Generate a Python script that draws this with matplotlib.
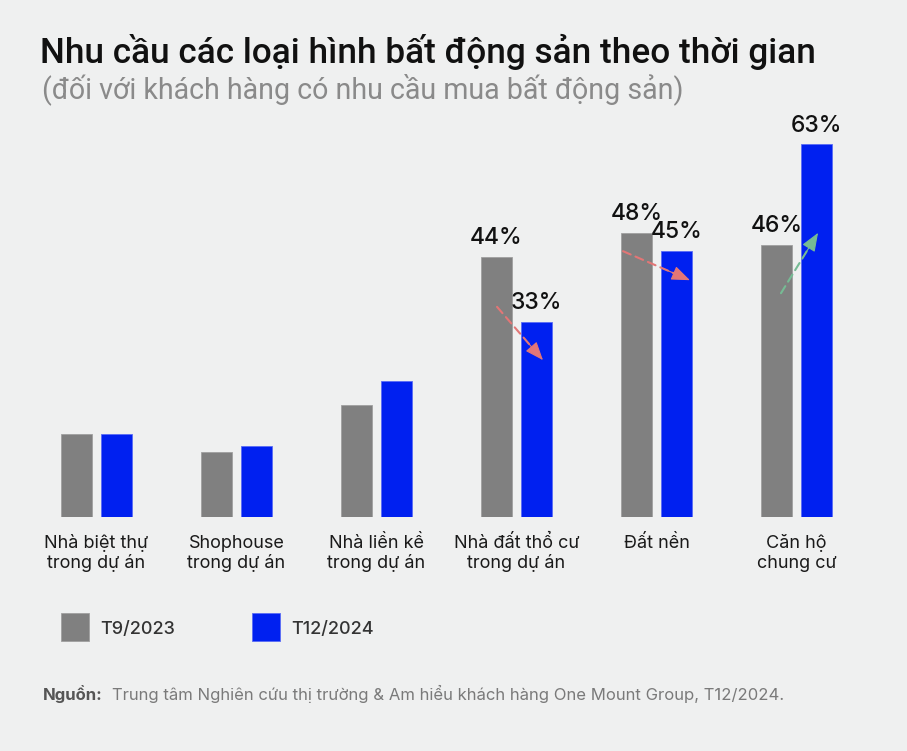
import matplotlib
matplotlib.use("Agg")
import matplotlib.pyplot as plt
import numpy as np

# data
categories = ["Nhà biệt thự\ntrong dự án", "Shophouse\ntrong dự án", "Nhà liền kề\ntrong dự án",
              "Nhà đất thổ cư\ntrong dự án", "Đất nền", "Căn hộ\nchung cư"]
t9_2023 = [14, 11, 19, 44, 48, 46]
t12_2024 = [14, 12, 23, 33, 45, 63]
labelled = [3, 4, 5]
series_names = ["T9/2023", "T12/2024"]

bg = "#eff0f0"
c_old = "#808080"
c_new = "#0020f0"
lab_font = ['Inter', 'DejaVu Sans']
plt.rcParams['font.family'] = ['Roboto', 'DejaVu Sans']

W, H = 907, 751
fig = plt.figure(figsize=(W / 100, H / 100), dpi=100, facecolor=bg)

def fx(px):
    return px / W

def fy(py):
    return 1 - py / H

# axes: baseline at y=517px, 5.92 px per percent, groups 140 px apart
ax = fig.add_axes([fx(26.5), fy(517), 840 / W, 70 * 5.92 / H])
ax.set_facecolor(bg)
ax.set_xlim(-0.5, 5.5)
ax.set_ylim(0, 70)
ax.axis('off')

x = np.arange(len(categories))
bw = 31 / 140
off = 20 / 140
b1 = ax.bar(x - off, t9_2023, bw, color=c_old, edgecolor="#a0a0a0", linewidth=0.6)
b2 = ax.bar(x + off, t12_2024, bw, color=c_new, edgecolor="#5a6cf5", linewidth=0.6)

for i in labelled:
    for xx, v in [(x[i] - off, t9_2023[i]), (x[i] + off, t12_2024[i])]:
        ax.annotate(f"{v}%", (xx, v), xytext=(0, 9), textcoords="offset points",
                    ha="center", va="baseline", fontsize=16.5, color="#111111",
                    family=lab_font, fontweight="medium")

# trend arrows: dashed shaft + solid head
arrows = [((2.861, 35.5), (3.189, 26.5), "#e27676"),
          ((3.761, 44.9), (4.239, 40.0), "#e27676"),
          ((4.889, 37.8), (5.154, 48.0), "#76bb94")]
for (s, e, col) in arrows:
    ax.annotate("", xy=e, xytext=s,
                arrowprops=dict(arrowstyle="-", color=col, linestyle=(0, (4, 2.5)),
                                linewidth=1.5, shrinkA=0, shrinkB=10))
    mid = (s[0] + 0.6 * (e[0] - s[0]), s[1] + 0.6 * (e[1] - s[1]))
    ax.annotate("", xy=e, xytext=mid,
                arrowprops=dict(arrowstyle="-|>,head_length=1.15,head_width=0.45", color=col,
                                linewidth=0.8, shrinkA=0, shrinkB=0))

# category labels, one text per line
for i, lab in enumerate(categories):
    for j, line in enumerate(lab.split("\n")):
        fig.text(fx(96.5 + 140 * i), fy(548 + 20 * j), line, ha="center", va="baseline",
                 fontsize=13, color="#1a1a1a", family=lab_font)

# title
fig.text(fx(40), fy(63), "Nhu cầu các loại hình bất động sản theo thời gian", fontsize=25.3,
         fontweight="medium", color="#111111", va="baseline")
fig.text(fx(42), fy(98), "(đối với khách hàng có nhu cầu mua bất động sản)", fontsize=20.6,
         color="#8a8a8a", va="baseline")

# legend
for px, col, ec, name in [(61, c_old, "#a0a0a0", series_names[0]), (252, c_new, "#5a6cf5", series_names[1])]:
    fig.patches.append(plt.Rectangle((fx(px), fy(641)), 28 / W, 28 / H, transform=fig.transFigure,
                                     facecolor=col, edgecolor=ec, linewidth=0.6))
    fig.text(fx(px + 39), fy(634), name, fontsize=13, color="#333333", va="baseline",
             fontweight="medium", family=lab_font)

# source
fig.text(fx(43), fy(700), "Nguồn:", fontsize=12, fontweight="bold", color="#555555",
         va="baseline", family=lab_font)
fig.text(fx(112), fy(700), "Trung tâm Nghiên cứu thị trường & Am hiểu khách hàng One Mount Group, T12/2024.",
         fontsize=12, color="#7a7a7a", va="baseline", family=lab_font)

fig.savefig("out.png", dpi=100, facecolor=bg)
